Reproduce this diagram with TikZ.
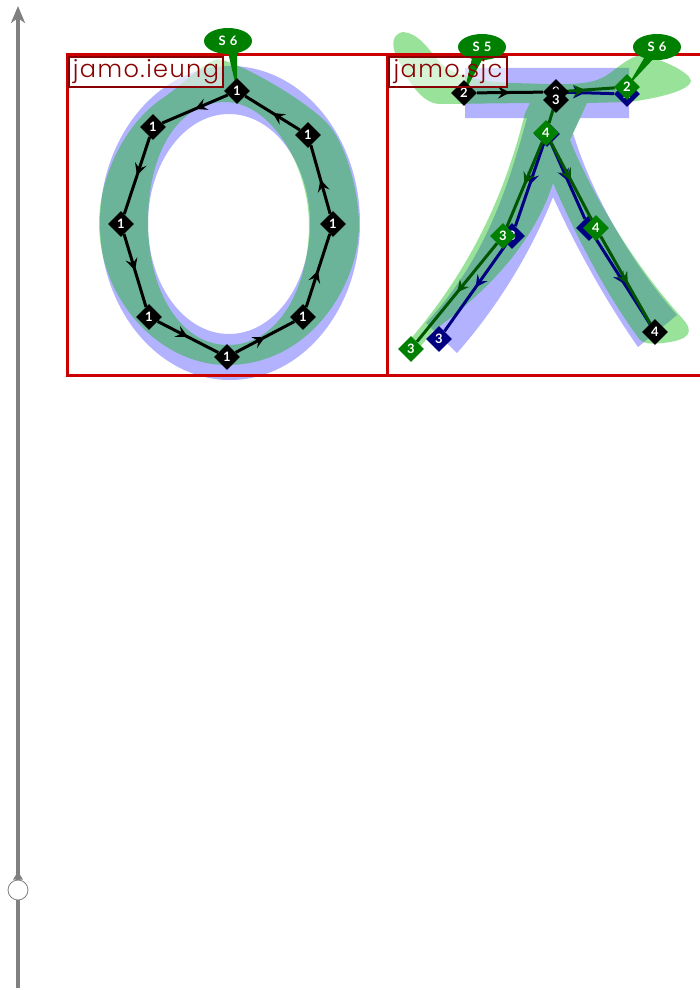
\documentclass[tikz,border=0pt]{standalone}
\usepackage{xcolor}
\usepackage{fontspec}
\usepackage{tikz}
\usetikzlibrary{arrows.meta,calc,decorations.markings,shapes.geometric}
\newfontfamily\labelfont[LetterSpace=6]{Poppins Light}
\newfontfamily\tagfont[LetterSpace=6]{Lato}
\definecolor{strokeblue}{HTML}{0000FF}
\definecolor{strokegreen}{HTML}{00B600}
\definecolor{framered}{HTML}{CC0000}
\definecolor{labelred}{HTML}{880000}
\definecolor{tagblack}{HTML}{000000}
\definecolor{tagnavy}{HTML}{000080}
\definecolor{taggreen}{HTML}{008000}
\definecolor{linegreen}{HTML}{005500}
\definecolor{axisgray}{HTML}{808080}
\tikzset{
  jamoframe/.style={draw=framered,line width=3pt,minimum size=320pt,inner sep=0pt,anchor=north west},
  jamolabel/.style={draw=labelred,line width=2pt,text=labelred,
    anchor=north west,inner sep=0pt,minimum height=30pt,font=\labelfont\fontsize{24}{24}\selectfont},
  labelwash/.style={fill=white,fill opacity=.6},
  midtip/.style={postaction={decorate},decoration={markings,
    mark=at position .5 with {\arrow{Stealth[length=12pt,width=12pt,inset=4.5pt]}}}},
  blackline/.style={draw=tagblack,line width=3pt,midtip},
  navyline/.style={draw=tagnavy,line width=3pt,midtip},
  greenline/.style={draw=linegreen,line width=3pt,midtip},
  ptag/.style={diamond,minimum size=26pt,inner sep=0pt,text=white,font=\tagfont\bfseries\fontsize{13}{13}\selectfont},
  blacktag/.style={ptag,fill=tagblack},
  navytag/.style={ptag,fill=tagnavy},
  greentag/.style={ptag,fill=taggreen},
  bubble/.style={ellipse,fill=taggreen,text=white,minimum width=48pt,minimum height=26pt,inner sep=0pt,
    font=\tagfont\bfseries\fontsize{13}{13}\selectfont},
  spike/.style={fill=taggreen},
  blueink/.style={fill=strokeblue,fill opacity=.3,even odd rule},
  greenink/.style={fill=strokegreen,fill opacity=.4,even odd rule}
}
\begin{document}
\begin{tikzpicture}[x=1pt,y=-1pt]
  \useasboundingbox (0,0) rectangle (700,990);

  \fill[blueink] (230,223) ellipse [x radius=130,y radius=157] (229,224) ellipse [x radius=81,y radius=110];
  \fill[greenink] (217,59) .. controls (240,62) and (305,100) .. (327,123)
    .. controls (345,142) and (359,190) .. (359,225)
    .. controls (359,285) and (310,365) .. (227,365)
    .. controls (160,365) and (99,300) .. (99,222)
    .. controls (100,175) and (125,125) .. (160,100)
    .. controls (180,87) and (200,65) .. (217,59) -- cycle
    (225,102) .. controls (270,102) and (309,165) .. (309,225)
    .. controls (309,285) and (280,345) .. (228,345)
    .. controls (180,345) and (148,290) .. (148,222)
    .. controls (148,150) and (180,102) .. (225,102) -- cycle;

  \fill[blueink] (465,68) -- (629,68) -- (629,118) -- (580,118) -- (573,133)
    .. controls (590,190) and (630,262) .. (677,315) -- (638,347)
    .. controls (605,300) and (575,245) .. (553,197)
    .. controls (530,255) and (495,310) .. (457,353) -- (426,323)
    .. controls (480,265) and (505,200) .. (527,118) -- (465,118) -- cycle;
  \fill[greenink] (403,32) .. controls (418,33) and (428,48) .. (440,63)
    .. controls (455,76) and (480,82) .. (513,83) .. controls (550,84) and (580,86) .. (597,80)
    .. controls (612,75) and (622,60) .. (640,55) .. controls (660,58) and (690,72) .. (691,81)
    .. controls (690,90) and (660,98) .. (629,102) -- (587,103) -- (570,140)
    .. controls (590,190) and (630,260) .. (682,318) .. controls (695,332) and (690,340) .. (663,343)
    .. controls (650,344) and (645,344) .. (640,340) .. controls (610,300) and (580,245) .. (553,183)
    .. controls (535,240) and (490,290) .. (433,331) -- (416,352) -- (408,342)
    .. controls (470,270) and (505,195) .. (525,113) -- (530,103) -- (440,104)
    .. controls (420,104) and (405,75) .. (400,63) .. controls (393,52) and (388,35) .. (403,32) -- cycle;

  \node[jamoframe] (ieung) at (65.5,53.5) {};
  \node[jamoframe] (sjc) at (385.5,53.5) {};
  \fill[labelwash] (68,56) rectangle (222,88);
  \fill[labelwash] (388,56) rectangle (506,88);

  \coordinate (axistop) at (18,6);
  \coordinate (axisend) at (18,988);
  \node[circle,draw=axisgray,fill=white,line width=.8pt,minimum size=20pt,inner sep=0pt] (pin) at (18,890) {};
  \draw[axisgray,line width=4pt,-{Stealth[length=17pt,width=14pt,inset=5pt]}] (pin.north) -- (axistop);
  \draw[axisgray,line width=4pt] (pin.south) -- (axisend);
  \fill[axisgray] ([xshift=-5pt]pin.north) -- ([xshift=5pt]pin.north) -- ([yshift=8pt]pin.north) -- cycle;

  \coordinate (peak) at (237,91);
  \node[bubble] (sa) at (228,41) {S 6};
  \fill[spike] ([shift={(0pt,2pt)}]sa.south) -- ([shift={(9pt,2pt)}]sa.south) -- (peak) -- cycle;
  \node[blacktag] (a1) at (peak) {1};
  \node[blacktag] (a2) at (153,127) {1};
  \node[blacktag] (a3) at (121,224) {1};
  \node[blacktag] (a4) at (149,317) {1};
  \node[blacktag] (a5) at (227,357) {1};
  \node[blacktag] (a6) at (303,317) {1};
  \node[blacktag] (a7) at (333,224) {1};
  \node[blacktag] (a8) at (308,135) {1};
  \draw[blackline] (a1) -- (a2);
  \draw[blackline] (a2) -- (a3);
  \draw[blackline] (a3) -- (a4);
  \draw[blackline] (a4) -- (a5);
  \draw[blackline] (a5) -- (a6);
  \draw[blackline] (a6) -- (a7);
  \draw[blackline] (a7) -- (a8);
  \draw[blackline] (a8) -- (a1);

  \coordinate (head) at (464,93);
  \coordinate (joint) at (556,92);
  \coordinate (fork) at (556,100);
  \coordinate (tail) at (655,332);
  \coordinate (cap) at (627,87);

  \node[navytag] (b3) at (627,94) {2};
  \node[navytag] (b5) at (547,134) {4};
  \node[navytag] (b6) at (512,236) {3};
  \node[navytag] (b7) at (439,339) {3};
  \node[navytag] (b8) at (589,228) {4};
  \draw[navyline] (joint) -- (b3);
  \draw[navyline] (b5) -- (b6);
  \draw[navyline] (b6) -- (b7);
  \draw[navyline] (b5) -- (b8);
  \draw[navyline] (b8) -- (tail);

  \node[bubble] (sb) at (482,47) {S 5};
  \node[bubble] (sc) at (657,47) {S 6};
  \fill[spike] ([shift={(-10pt,2pt)}]sb.south) -- ([shift={(1pt,2pt)}]sb.south) -- (head) -- cycle;
  \fill[spike] ([shift={(-13pt,2pt)}]sc.south) -- ([shift={(-3pt,2pt)}]sc.south) -- (cap) -- cycle;

  \node[greentag] (c2) at (cap) {2};
  \node[greentag] (c3) at (546,133) {4};
  \node[greentag] (c4) at (503,236) {3};
  \node[greentag] (c5) at (411,349) {3};
  \node[greentag] (c6) at (596,228) {4};
  \draw[greenline] (joint) -- (c2);
  \draw[greenline] (c3) -- (c4);
  \draw[greenline] (c4) -- (c5);
  \draw[greenline] (c3) -- (c6);
  \draw[greenline] (c6) -- (tail);
  \draw[linegreen,line width=3pt] (fork) -- (c3);

  \node[blacktag] (d1) at (head) {2};
  \node[blacktag] (d2) at (joint) {2};
  \node[blacktag] (d3) at (fork) {3};
  \node[blacktag] (d4) at (tail) {4};
  \draw[blackline] (d1) -- (d2);

  \node[jamolabel,minimum width=154pt] (ieunglabel) at ([shift={(2.5pt,-2.5pt)}]ieung.north west) {jamo.ieung};
  \node[jamolabel,minimum width=118pt] (sjclabel) at ([shift={(2.5pt,-2.5pt)}]sjc.north west) {jamo.sjc};
\end{tikzpicture}
\end{document}
